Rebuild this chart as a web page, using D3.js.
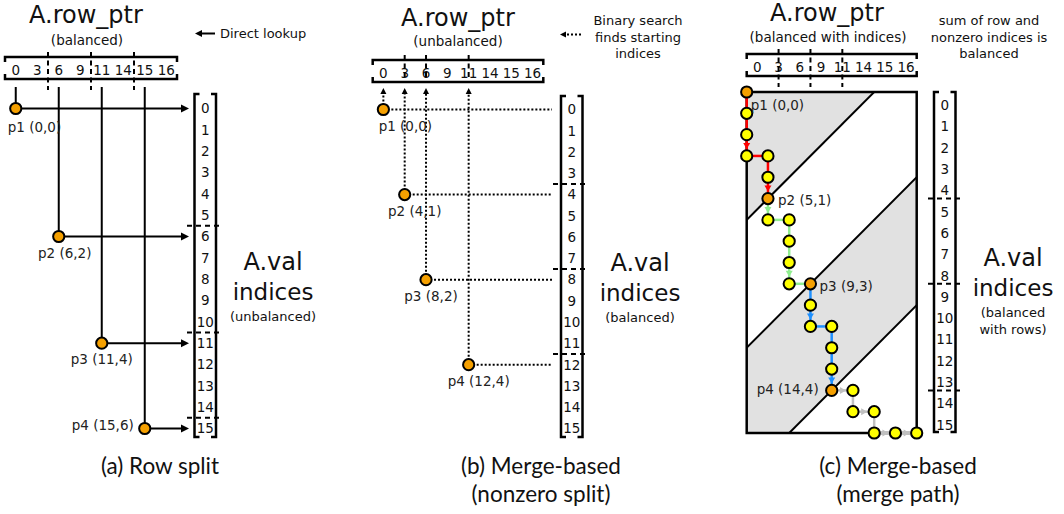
<!DOCTYPE html>
<html>
<head>
<meta charset="utf-8">
<script src="https://cdnjs.cloudflare.com/ajax/libs/d3/7.8.5/d3.min.js"></script>
<style>
  body { margin: 0; background: #fff; }
  svg { display: block; font-family: "DejaVu Sans", Verdana, sans-serif; }
  .caption { font-family: Lato, "Liberation Sans", sans-serif; font-size: 22.5px; fill: #111; }
</style>
</head>
<body>
<div id="fig"></div>
<script>
/* Data */
var rowPtr = [0, 3, 6, 9, 11, 14, 15, 16]
var valIndices = [0, 1, 2, 3, 4, 5, 6, 7, 8, 9, 10, 11, 12, 13, 14, 15]
// split points as [nonzero index, row index]
var splitsA = [[0, 0], [6, 2], [11, 4], [15, 6]]
var splitsB = [[0, 0], [4, 1], [8, 2], [12, 4]]
var splitsC = [[0, 0], [5, 1], [9, 3], [14, 4]]
var marksC = [1.5, 3, 4.5]                          // row_ptr ticks for (c)
var arrowSteps = [2, 5, 6, 10, 13, 17, 18, 20, 22, 23] // path steps drawn with a head
var subtitles = ["(balanced)", "(unbalanced)", "(balanced with indices)"]
var valNotes = [["(unbalanced)"], ["(balanced)"], ["(balanced", "with rows)"]]
var sideNotes = [["Direct lookup"], ["Binary search", "finds starting", "indices"], ["sum of row and", "nonzero indices is", "balanced"]]
var captions = [["(a) Row split"], ["(b) Merge-based", "(nonzero split)"], ["(c) Merge-based", "(merge path)"]]

var partColors = ["#ff0000", "#90ee90", "#1e90ff", "#c0c0c0"]
var ORANGE = "#f5a000", YELLOW = "#ffff00"
var width = 1064, height = 514
var NUM = 13.5 // size of index numbers and point labels

var svg = d3.select("#fig").append("svg")
  .attr("width", width).attr("height", height)

/* helpers */
function tri(g, tipX, tipY, dx, dy, len, half, color) {
  // small filled arrowhead, tip at (tipX,tipY) pointing along (dx,dy)
  var bx = tipX - dx * len, by = tipY - dy * len
  var px = -dy * half, py = dx * half
  g.append("path")
    .attr("d", `M${tipX},${tipY}L${bx + px},${by + py}L${bx - px},${by - py}Z`)
    .attr("fill", color)
}

function line(g, x1, y1, x2, y2, w, dash, color) {
  return g.append("line")
    .attr("x1", x1).attr("y1", y1).attr("x2", x2).attr("y2", y2)
    .attr("stroke", color || "#000").attr("stroke-width", w)
    .attr("stroke-dasharray", dash || null)
}

function text(g, x, y, str, size, anchor, color) {
  return g.append("text").attr("x", x).attr("y", y)
    .attr("font-size", size).attr("text-anchor", anchor || "middle")
    .attr("fill", color || "#111").text(str)
}

function rowPtrBox(g, x, top) {
  var bot = top + 22, l = x(0), r = x(rowPtr.length)
  g.append("path")
    .attr("d", `M${l},${top + 5}V${top}H${r}V${top + 5}M${l},${bot - 5}V${bot}H${r}V${bot - 5}`)
    .attr("fill", "none").attr("stroke", "#000").attr("stroke-width", 2.5)
  rowPtr.forEach((v, i) => text(g, x(i + 0.5), top + 18, v, NUM))
}

function valColumn(g, left, top, bottom, yLabel) {
  var right = left + 21.5
  g.append("path")
    .attr("d", `M${left + 5},${top}H${left}V${bottom}H${left + 5}M${right - 5},${top}H${right}V${bottom}H${right - 5}`)
    .attr("fill", "none").attr("stroke", "#000").attr("stroke-width", 2.5)
  valIndices.forEach(v => text(g, left + 10.75, yLabel(v), v, NUM))
}

function point(g, x, y, fill) {
  g.append("circle").attr("cx", x).attr("cy", y).attr("r", 5.6)
    .attr("fill", fill).attr("stroke", "#000").attr("stroke-width", 2)
}

function bigLabel(g, cx, baseY, notes) {
  text(g, cx, baseY, "A.val", 24)
  text(g, cx, baseY + 30, "indices", 23)
  notes.forEach((n, i) => text(g, cx, baseY + 51 + i * 17, n, 13))
}

/* (a) Row split */
var gA = svg.append("g")
var xA = d3.scaleLinear().domain([0, 8]).range([5, 177])
var yA = d3.scaleLinear().domain([0, 15]).range([108.5, 428.5])

text(gA, 86, 23, "A.row_ptr", 24)
text(gA, 87, 45, subtitles[0], 13.5)
line(gA, 215, 33.5, 201, 33.5, 2)
tri(gA, 195, 33.5, -1, 0, 7, 3.5, "#000")
text(gA, 220, 38, sideNotes[0][0], 13, "start")

rowPtrBox(gA, xA, 57)
splitsA.slice(1).forEach(s => line(gA, xA(s[1]), 52, xA(s[1]), 90, 2, "5,3.5"))

var labA = [[-8, 23, "start"], [6, 21, "middle"], [0, 21, "middle"], [-11, 1.5, "end"]]
splitsA.forEach((s, i) => {
  var x = xA(s[1] + 0.5), y = yA(s[0])
  line(gA, x, 87, x, y, 2)
  line(gA, x, y, 182, y, 2)
  tri(gA, 189, y, 1, 0, 8, 4, "#000")
})
splitsA.forEach((s, i) => {
  var x = xA(s[1] + 0.5), y = yA(s[0])
  point(gA, x, y, ORANGE)
  text(gA, x + labA[i][0], y + labA[i][1], `p${i + 1} (${s[0]},${s[1]})`, NUM, labA[i][2], "#222")
})

valColumn(gA, 194.5, 94, 437, v => yA(v) + 4.8)
splitsA.slice(1).forEach(s => line(gA, 187, yA(s[0] - 0.5), 223, yA(s[0] - 0.5), 2, "5,4"))
bigLabel(gA, 273, 270, valNotes[0])

/* (b) Merge-based, nonzero split */
var gB = svg.append("g")
var xB = d3.scaleLinear().domain([0, 8]).range([372.7, 543.3])
var yB = d3.scaleLinear().domain([0, 15]).range([109.5, 428.5])

text(gB, 458, 26, "A.row_ptr", 24)
text(gB, 458, 46, subtitles[1], 13.5)
sideNotes[1].forEach((n, i) => text(gB, 638, 25 + i * 16.5, n, 13))
line(gB, 581, 34.5, 566, 34.5, 2, "2,2")
tri(gB, 560, 34.5, -1, 0, 6, 3, "#000")

rowPtrBox(gB, xB, 60)
splitsB.slice(1).forEach(s => line(gB, xB(s[1] + 0.5), 55, xB(s[1] + 0.5), 80, 2, "5,3.5"))

var labB = [22, 10, 5, 10]
splitsB.forEach((s, i) => {
  var x = xB(s[1] + 0.5), y = yB(s[0])
  line(gB, x, y, 552, y, 2, "2,2")
  line(gB, x, y, x, 93, 2, "2,2")
  tri(gB, x, 88, 0, -1, 6, 3, "#000")
})
splitsB.forEach((s, i) => {
  var x = xB(s[1] + 0.5), y = yB(s[0])
  point(gB, x, y, ORANGE)
  text(gB, x + labB[i], y + 21, `p${i + 1} (${s[0]},${s[1]})`, NUM, "middle", "#222")
})

valColumn(gB, 561, 96, 437, v => yB(v) + 4.8)
splitsB.slice(1).forEach(s => line(gB, 553, yB(s[0] - 0.5), 589, yB(s[0] - 0.5), 2, "5,4"))
bigLabel(gB, 640, 271, valNotes[1])

/* (c) Merge-based, merge path */
var gC = svg.append("g")
var nRows = rowPtr.length, nnz = valIndices.length
var xC = d3.scaleLinear().domain([0, nRows]).range([746.7, 916.7])
var yC = d3.scaleLinear().domain([0, nnz]).range([92, 433])

text(gC, 827, 21, "A.row_ptr", 24)
text(gC, 828, 41.5, subtitles[2], 13.5)
sideNotes[2].forEach((n, i) => text(gC, 989, 25 + i * 16.5, n, 13))

rowPtrBox(gC, xC, 54)
marksC.forEach(m => line(gC, xC(m), 49, xC(m), 87, 2, "5,3.5"))

// merge path walked from row_ptr: [nonzero, row]
var merge = [[0, 0]]
for (var r = 0; r < nRows; r++) {
  var end = r + 1 < nRows ? rowPtr[r + 1] : nnz
  var n = merge[merge.length - 1][0]
  while (n < end) { n++; merge.push([n, r]) }
  merge.push([n, r + 1])
}
var total = nRows + nnz, parts = splitsC.length, partLen = total / parts

svg.append("defs").append("clipPath").attr("id", "rectClip")
  .append("rect")
  .attr("x", xC(0)).attr("y", yC(0))
  .attr("width", xC(nRows) - xC(0)).attr("height", yC(nnz) - yC(0))

var bands = gC.append("g").attr("clip-path", "url(#rectClip)")
d3.range(0, parts, 2).forEach(k => {
  var a = k * partLen, b = (k + 1) * partLen
  var pts = [[-30, a + 30], [a + 30, -30], [b + 30, -30], [-30, b + 30]]
  bands.append("path")
    .attr("d", d3.line()(pts.map(p => [xC(p[0]), yC(p[1])])) + "Z")
    .attr("fill", "#e1e1e1")
})
d3.range(1, parts).forEach(k => {
  var d = k * partLen
  line(bands, xC(-30), yC(d + 30), xC(d + 30), yC(-30), 2)
})
gC.append("rect")
  .attr("x", xC(0)).attr("y", yC(0))
  .attr("width", xC(nRows) - xC(0)).attr("height", yC(nnz) - yC(0))
  .attr("fill", "none").attr("stroke", "#000").attr("stroke-width", 2.5)

merge.slice(0, -1).forEach((p, k) => {
  var q = merge[k + 1]
  var color = partColors[Math.floor((p[0] + p[1]) / partLen)]
  var x1 = xC(p[1]), y1 = yC(p[0]), x2 = xC(q[1]), y2 = yC(q[0])
  line(gC, x1, y1, x2, y2, 2.5, null, color)
  if (arrowSteps.includes(k)) {
    var dx = Math.sign(x2 - x1), dy = Math.sign(y2 - y1)
    tri(gC, x2 - dx * 7, y2 - dy * 7, dx, dy, 6, 3.5, color)
  }
})
merge.forEach(p => {
  var onSplit = splitsC.some(s => s[0] == p[0] && s[1] == p[1])
  point(gC, xC(p[1]), yC(p[0]), onSplit ? ORANGE : YELLOW)
})

var labC = [[4, 17.5, "start"], [10, 6, "start"], [9, 7, "start"], [-13, 4, "end"]]
splitsC.forEach((s, i) => {
  text(gC, xC(s[1]) + labC[i][0], yC(s[0]) + labC[i][1], `p${i + 1} (${s[0]},${s[1]})`, NUM, labC[i][2], "#222")
})

valColumn(gC, 934, 92, 432, v => yC(v) + 18)
splitsC.slice(1).forEach(s => line(gC, 928, yC(s[0]), 963, yC(s[0]), 2, "5,4"))
bigLabel(gC, 1013, 266, valNotes[2])

/* captions */
var capX = [160, 541, 898]
captions.forEach((c, i) => {
  c.forEach((t, j) => {
    svg.append("text").attr("class", "caption")
      .attr("x", capX[i]).attr("y", 474 + j * 28)
      .attr("text-anchor", "middle").text(t)
  })
})
</script>
</body>
</html>
